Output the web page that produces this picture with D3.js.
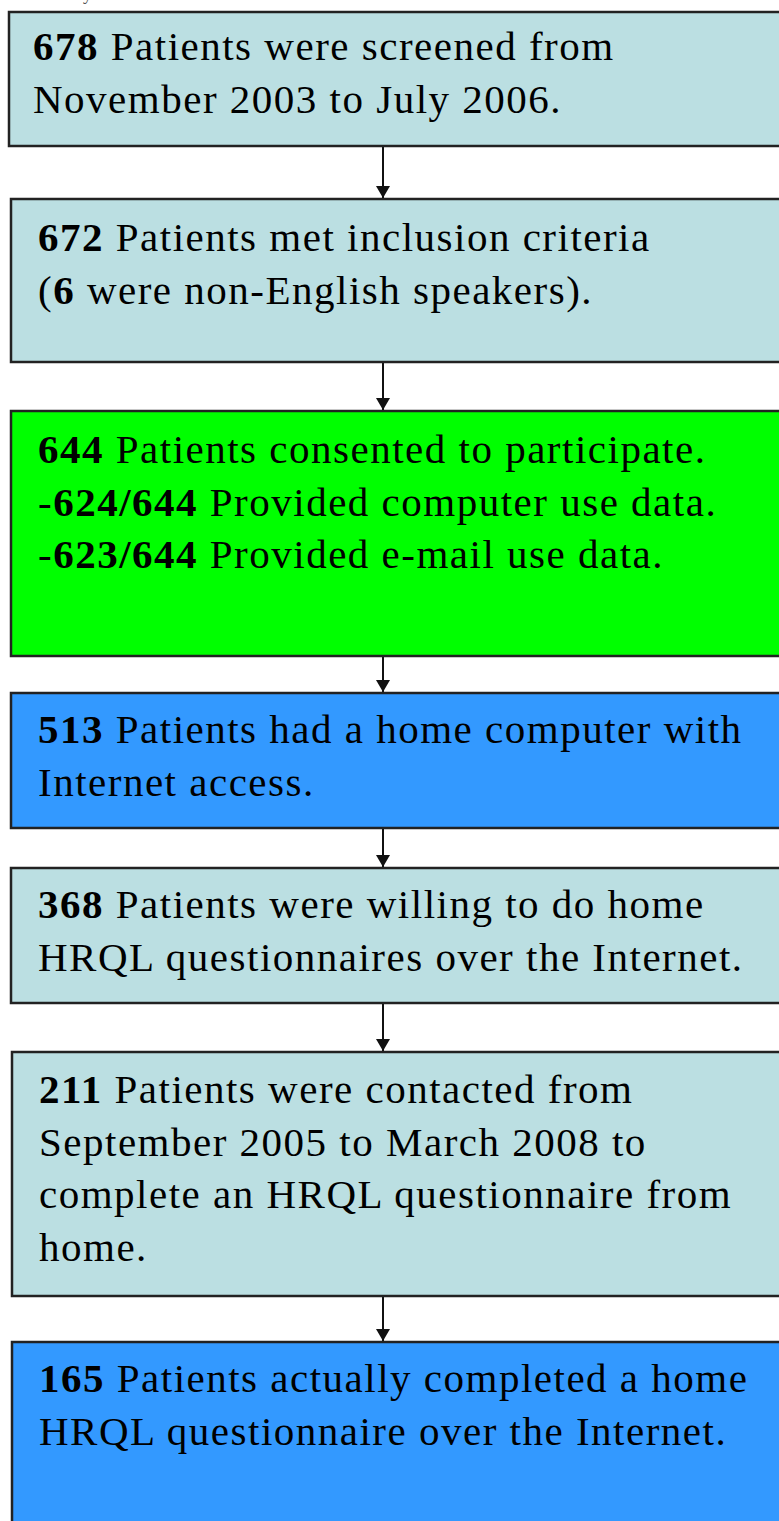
<!DOCTYPE html>
<html>
<head>
<meta charset="utf-8">
<script src="https://cdn.jsdelivr.net/npm/d3@7"></script>
<style>
  html, body { margin: 0; padding: 0; background: #fff; overflow: hidden; }
  svg { display: block; }
</style>
</head>
<body>
<div id="chart"></div>
<script>
'use strict';

// ─── Data ─────────────────────────────────────────────────────────────────────
// Each step of the flow: patient count plus the lines of text in its box.
// "**...**" marks the bold runs.
const stepCounts = [678, 672, 644, 513, 368, 211, 165];

const stepLines = [
  ['**678** Patients were screened from', 'November 2003 to July 2006.'],
  ['**672** Patients met inclusion criteria', '(**6** were non-English speakers).'],
  ['**644** Patients consented to participate.',
   '-**624/644** Provided computer use data.',
   '-**623/644** Provided e-mail use data.'],
  ['**513** Patients had a home computer with', 'Internet access.'],
  ['**368** Patients were willing to do home', 'HRQL questionnaires over the Internet.'],
  ['**211** Patients were contacted from', 'September 2005 to March 2008 to',
   'complete an HRQL questionnaire from', 'home.'],
  ['**165** Patients actually completed a home', 'HRQL questionnaire over the Internet.'],
];

const stepKind = ['screen', 'screen', 'consent', 'access', 'screen', 'screen', 'access'];

// ─── Layout ───────────────────────────────────────────────────────────────────
const W = 779, H = 1521;
const boxTop    = [12, 199, 411, 693, 868, 1052, 1342];
const boxBottom = [146, 362, 656, 828, 1003, 1296, 1560];
const boxLeft   = [9, 11, 11, 11, 11, 12, 12];
const textInset = [24, 27, 27, 27, 27, 27, 27];
const firstBase = [48, 52, 52, 50, 50, 51, 50];
const arrowX = 383;
const lineGap = 52.5;

const fill = d3.scaleOrdinal()
  .domain(['screen', 'consent', 'access'])
  .range(['#bbdfe2', '#00ff00', '#3399ff']);

const svg = d3.select('#chart').append('svg').attr('width', W).attr('height', H);

// clipped caption remnant above the chart
svg.append('text')
  .attr('x', 92).attr('y', 0)
  .attr('text-anchor', 'end')
  .attr('font-family', 'Liberation Serif, serif')
  .attr('font-size', 18).attr('fill', '#555')
  .text('study');

svg.append('defs').append('marker')
  .attr('id', 'arrowhead')
  .attr('viewBox', '0 -7 12 14')
  .attr('refX', 12).attr('refY', 0)
  .attr('markerWidth', 12).attr('markerHeight', 14)
  .attr('markerUnits', 'userSpaceOnUse')
  .attr('orient', 'auto')
  .append('path').attr('d', 'M0,-7L12,0L0,7Z').attr('fill', '#111');

const steps = stepCounts.map((n, i) => ({
  n, lines: stepLines[i], kind: stepKind[i],
  x: boxLeft[i], inset: textInset[i], base: firstBase[i],
  y0: boxTop[i], y1: boxBottom[i],
}));

// Arrows between boxes
svg.append('g').selectAll('line')
  .data(steps.slice(1))
  .join('line')
  .attr('x1', arrowX).attr('x2', arrowX)
  .attr('y1', (d, i) => steps[i].y1 + 1)
  .attr('y2', d => d.y0 - 1)
  .attr('stroke', '#111')
  .attr('stroke-width', 2)
  .attr('marker-end', 'url(#arrowhead)');

// Boxes
const box = svg.append('g').selectAll('g')
  .data(steps)
  .join('g');

box.append('rect')
  .attr('x', d => d.x)
  .attr('y', d => d.y0)
  .attr('width', d => W + 20 - d.x)
  .attr('height', d => d.y1 - d.y0)
  .attr('fill', d => fill(d.kind))
  .attr('stroke', '#222')
  .attr('stroke-width', 2.5);

function parseRuns(s) {
  return s.split(/(\*\*[^*]+\*\*)/).filter(t => t.length)
    .map(t => t.startsWith('**') ? { t: t.slice(2, -2), bold: true } : { t, bold: false });
}

box.each(function(d) {
  const g = d3.select(this);
  const text = g.append('text')
    .attr('font-family', 'Liberation Serif, Times New Roman, serif')
    .attr('font-size', 41)
    .attr('letter-spacing', 1.5)
    .attr('fill', '#000');
  d.lines.forEach((ln, j) => {
    const tl = text.append('tspan')
      .attr('x', d.x + d.inset)
      .attr('y', d.y0 + d.base + j * lineGap);
    parseRuns(ln).forEach(r => {
      tl.append('tspan')
        .attr('font-weight', r.bold ? 'bold' : 'normal')
        .text(r.t);
    });
  });
});
</script>
</body>
</html>
